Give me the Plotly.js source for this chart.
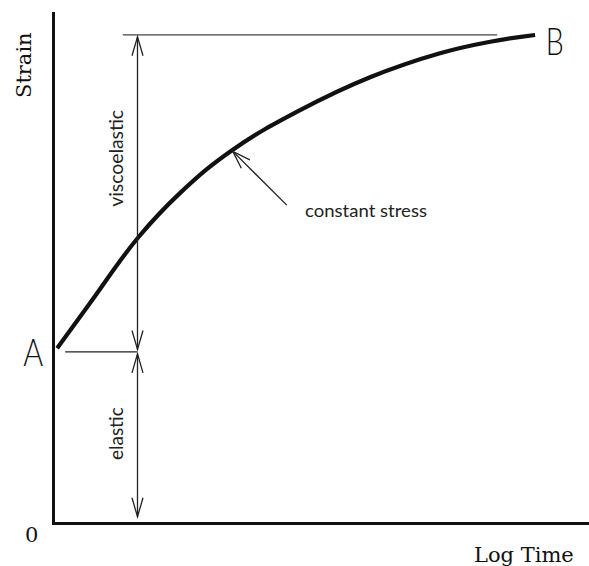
<!DOCTYPE html>
<html><head><meta charset="utf-8">
<script src="https://cdn.plot.ly/plotly-3.0.1.min.js"></script>
<style>html,body{margin:0;padding:0;background:#fff}</style>
</head><body><div id="chart" style="width:589px;height:566px"></div>
<script>
// ---- data (chart units: x = log time, y = strain) ----
const logTime = [0.4, 6.6, 15.5, 23.4, 33.3, 45.9, 59.0, 72.1, 81.5, 89.9];
const strain  = [33.3, 42.0, 54.4, 63.0, 71.3, 78.9, 85.2, 89.8, 92.0, 93.3];
const elasticStrain = 32.6;
const totalStrain = 93.3;
const markerTime = 15.45;
const stressPointIndex = 4;
const stressLabelTail = [43.4, 60.7];
const topLineTime = [12.7, 82.8];
const elasticLineStart = 1.9;
const labelStrain = 'Strain', labelTime = 'Log Time', labelZero = '0';
const labelA = 'A', labelB = 'B';
const labelVisco = 'viscoelastic', labelElastic = 'elastic', labelStress = 'constant stress';

// ---- layout geometry ----
const W = 589, H = 566, M = {l:55, r:0, t:12, b:44};
const xRange = [0, 100], yRange = [0, 97.7];
const pxX = (W - M.l - M.r) / (xRange[1] - xRange[0]);
const pxY = (H - M.t - M.b) / (yRange[1] - yRange[0]);

const thin = {color:'#222', width:1.3};
function head(tx, ty, fx, fy, L, w){
  let dx = (tx-fx)*pxX, dy = (ty-fy)*pxY;
  const n = Math.hypot(dx,dy); dx/=n; dy/=n;
  const bx=-dx, by=-dy, px=-dy, py=dx;
  const w1x = tx + (bx*L + px*w)/pxX, w1y = ty + (by*L + py*w)/pxY;
  const w2x = tx + (bx*L - px*w)/pxX, w2y = ty + (by*L - py*w)/pxY;
  return {type:'path', xref:'x', yref:'y', line:thin,
    path:`M${w1x},${w1y} L${tx},${ty} L${w2x},${w2y}`};
}
function seg(x0,y0,x1,y1,line){ return {type:'line',xref:'x',yref:'y',x0,y0,x1,y1,line:line||thin}; }

const viscoTop = totalStrain - 0.35, viscoBot = elasticStrain + 0.45;
const elTop = elasticStrain - 0.4, elBot = 1.0;
const sx = logTime[stressPointIndex], sy = strain[stressPointIndex] - 0.3;

const shapes = [
  seg(topLineTime[0], totalStrain, topLineTime[1], totalStrain, {color:'#444', width:1.3}),
  seg(elasticLineStart, elasticStrain, markerTime, elasticStrain),
  seg(markerTime, viscoTop, markerTime, viscoBot),
  head(markerTime, viscoTop, markerTime, viscoBot, 19, 5.5),
  head(markerTime, viscoBot, markerTime, viscoTop, 19, 5.5),
  seg(markerTime, elTop, markerTime, elBot),
  head(markerTime, elTop, markerTime, elBot, 19, 5.5),
  head(markerTime, elBot, markerTime, elTop, 19, 5.5),
  seg(stressLabelTail[0], stressLabelTail[1], sx, sy),
  head(sx, sy, stressLabelTail[0], stressLabelTail[1], 18, 6)
];

const serif = {family:'DejaVu Serif, Liberation Serif, serif', size:21, color:'#111'};
const lightSans = 'Lato, Roboto, DejaVu Sans, sans-serif';
const big = {family:lightSans, size:37, weight:300, color:'#111'};
const small = (s) => ({family:lightSans, size:s, weight:400, color:'#222'});

const annotations = [
  {text:labelStrain, xref:'paper', yref:'paper', x:(24-M.l)/(W-M.l-M.r), y:(H-M.b-65)/(H-M.t-M.b), textangle:-90, showarrow:false, font:serif, xanchor:'center', yanchor:'middle'},
  {text:labelTime, xref:'paper', yref:'paper', x:(524-M.l)/(W-M.l-M.r), y:(H-M.b-555)/(H-M.t-M.b), showarrow:false, font:serif, xanchor:'center', yanchor:'middle'},
  {text:labelZero, xref:'paper', yref:'paper', x:(31-M.l)/(W-M.l-M.r), y:(H-M.b-535)/(H-M.t-M.b), showarrow:false, font:serif, xanchor:'center', yanchor:'middle'},
  {text:labelA, xref:'paper', yref:'y', x:(33-M.l)/(W-M.l-M.r), y:elasticStrain, showarrow:false, font:big, xanchor:'center', yanchor:'middle'},
  {text:labelB, xref:'x', yref:'y', x:logTime[logTime.length-1]+3.7, y:totalStrain-1.0, showarrow:false, font:big, xanchor:'center', yanchor:'middle'},
  {text:labelVisco, xref:'x', yref:'y', x:11.2, y:69.7, textangle:-90, showarrow:false, font:small(19), xanchor:'center', yanchor:'middle'},
  {text:labelElastic, xref:'x', yref:'y', x:11.2, y:17.0, textangle:-90, showarrow:false, font:small(19), xanchor:'center', yanchor:'middle'},
  {text:labelStress, xref:'x', yref:'y', x:46.4, y:59.8, showarrow:false, font:small(18), xanchor:'left', yanchor:'middle'}
];

// target text widths (px) giving the condensed look of the original lettering
const condensed = {};
condensed[labelStress] = [122, 'left center'];
condensed[labelVisco] = [97, 'center'];
condensed[labelElastic] = [53, 'center'];
condensed[labelA] = [20, 'center'];
condensed[labelB] = [18, 'center'];

const trace = {x:logTime, y:strain, type:'scatter', mode:'lines',
  line:{color:'#111', width:4.2, shape:'spline', smoothing:1.2}, hoverinfo:'skip'};

const axisCommon = {showline:true, linewidth:2.6, linecolor:'#111', showgrid:false, zeroline:false,
  showticklabels:false, ticks:'', fixedrange:true};

const layout = {
  width:W, height:H, margin:M, paper_bgcolor:'#fff', plot_bgcolor:'#fff', showlegend:false,
  xaxis:Object.assign({range:xRange}, axisCommon),
  yaxis:Object.assign({range:yRange}, axisCommon),
  shapes, annotations
};
Plotly.newPlot('chart', [trace], layout, {staticPlot:true, displayModeBar:false}).then(() => {
  document.querySelectorAll('text.annotation-text').forEach(t => {
    const c = condensed[t.textContent];
    if (!c) return;
    const w = t.getComputedTextLength();
    if (!w) return;
    const s = c[0] / w;
    t.style.transformBox = 'fill-box';
    t.style.transformOrigin = c[1];
    t.style.transform = `scaleX(${s})`;
  });
});
</script></body></html>
